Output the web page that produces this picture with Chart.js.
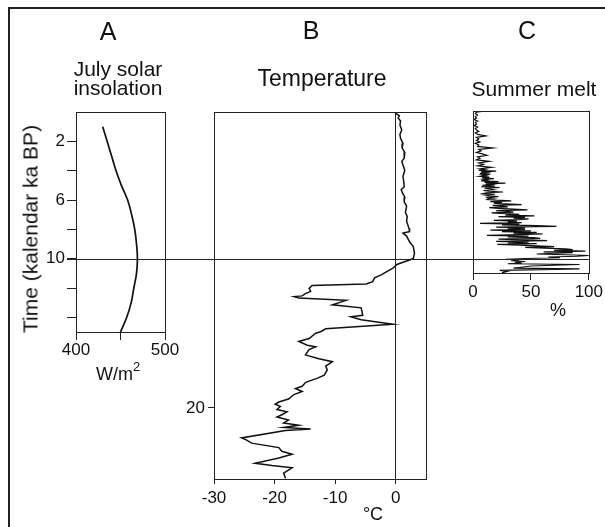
<!DOCTYPE html>
<html>
<head>
<meta charset="utf-8">
<script src="https://cdn.jsdelivr.net/npm/chart.js@4.4.1/dist/chart.umd.min.js"></script>
<style>
  html, body { margin: 0; padding: 0; background: #fff; }
  #wrap { position: relative; width: 605px; height: 527px; overflow: hidden;
          font-family: "Liberation Sans", Arial, sans-serif; color: #111; }
  #frame { position: absolute; left: 8px; top: 7px; width: 640px; height: 560px;
           border-top: 2px solid #222; border-left: 2px solid #222; }
  canvas { position: absolute; left: 0; top: 0; }
  .t { position: absolute; transform: translate(-50%, -50%); white-space: nowrap; line-height: 1; }
</style>
</head>
<body>
<div id="wrap">
  <div id="frame"></div>
  <canvas id="cA" width="605" height="527"></canvas>
  <canvas id="cC" width="605" height="527"></canvas>
  <canvas id="cB" width="605" height="527"></canvas>

  <div class="t" style="left:108px;top:31px;font-size:25px">A</div>
  <div class="t" style="left:311px;top:30px;font-size:25px">B</div>
  <div class="t" style="left:527px;top:30px;font-size:25px">C</div>
  <div class="t" style="left:118px;top:68px;font-size:21px">July solar</div>
  <div class="t" style="left:118px;top:87px;font-size:21px">insolation</div>
  <div class="t" style="left:322px;top:78px;font-size:23px">Temperature</div>
  <div class="t" style="left:534px;top:88px;font-size:21px">Summer melt</div>
  <div class="t" style="left:30px;top:229px;font-size:21px;transform:translate(-50%,-50%) rotate(-90deg)">Time (kalendar ka BP)</div>
  <div class="t" style="left:118px;top:371px;font-size:18px">W/m<sup style="font-size:13px;vertical-align:9px">2</sup></div>
  <div class="t" style="left:373px;top:514px;font-size:18px">°C</div>
  <div class="t" style="left:558px;top:310px;font-size:18px">%</div>
</div>

<script>
// A: July solar insolation (W/m2) vs age (ka BP)
var insolAge = [1, 2, 3, 4, 5, 6, 7, 8, 9, 10, 11, 12, 13, 14, 15];
var insolWm2 = [430, 435, 440, 445, 451, 458, 462.5, 466, 468, 469, 468, 465, 462, 457, 450];
var insolXTicks = [400, 450, 500];
var insolXLabels = [400, 500];
var insolYTicks = [2, 4, 6, 8, 10, 12, 14];
var insolYLabels = [2, 6, 10];

// B: temperature (deg C) vs age (ka BP)
var tempAge = [0.13, 0.3, 0.45, 0.6, 0.8, 1.07, 1.4, 1.7, 1.96, 2.3, 2.6, 2.9, 3.3, 3.5, 3.75, 4.1, 4.5,
  4.8, 5.2, 5.4, 5.6, 5.9, 6.2, 6.5, 6.9, 7.2, 7.5, 8.0, 8.2, 8.3, 8.5,
  8.9, 9.2, 9.65, 10.0, 10.1, 10.25, 10.4, 10.65, 10.9, 11.1, 11.3, 11.55, 11.7, 11.8, 12.0, 12.2, 12.35,
  12.5, 12.55, 12.65, 12.8, 13.1, 13.3, 13.8, 13.9, 14.1, 14.4, 14.7, 14.9, 15.0, 15.35, 15.55, 15.8, 15.9,
  16.1, 16.45, 16.7, 16.9, 17.2, 17.45, 17.8, 18.0, 18.2, 18.3, 18.55, 18.7, 18.9, 19.1, 19.4, 19.6, 19.75, 19.9,
  20.1, 20.25, 20.45, 20.6, 20.8, 21.0, 21.15, 21.3, 21.4, 21.5, 22.0, 22.15, 22.35, 22.65, 22.9, 23.1,
  23.35, 23.7, 23.85, 24.0, 24.35, 24.7];
var tempC = [0.2, 0, 0.6, 0.4, 0.8, 0.7, 1.0, 0.7, 0.8, 1.2, 1.05, 1.5, 1.4, 1.0, 1.2, 1.5, 1.2,
  1.3, 1.4, 0.9, 1.1, 1.5, 1.4, 1.8, 1.6, 1.9, 1.8, 2.2, 2.3, 1.2, 1.8,
  2.3, 2.9, 3.1, 2.9, 2.3, 1.2, 0.2, -0.45, -1.55, -2.4, -3.5, -3.8, -4.9, -13.8, -14.3, -14.05, -14.9,
  -15.45, -16.8, -16, -8.2, -10.45, -5.7, -5.45, -7.4, -5.7, -0.45, -11.55, -12.4, -13.2, -14.3, -16, -14.6, -13.2,
  -14.3, -14.9, -12.7, -10.45, -11.55, -11.3, -11.8, -12.9, -14.3, -14.9, -15.45, -16.55, -15.45, -16.8, -17.7, -19.3, -19.9, -19.05,
  -19.6, -17.95, -18.8, -19.6, -17.7, -18.5, -16, -18.5, -14.05, -18.2, -25.45, -24.6, -23.8, -19.3, -18.8, -17.1,
  -19.3, -23.2, -20.45, -17.1, -18.5, -18.2];
var tempXTicks = [-30, -20, -10, 0];
var tempYTicks = [20];

// C: summer melt (%) vs age (ka BP)
var meltAge = [
  0.1, 0.2, 0.3, 0.4, 0.5, 0.6, 0.7, 0.8, 0.9, 1.0,
  1.1, 1.2, 1.3, 1.4, 1.5, 1.6, 1.7, 1.8, 1.9, 2.0,
  2.1, 2.2, 2.3, 2.4, 2.5, 2.6, 2.7, 2.8, 2.9, 3.0,
  3.1, 3.2, 3.3, 3.4, 3.5, 3.6, 3.7, 3.8, 3.9, 4.0,
  4.05, 4.1, 4.15, 4.2, 4.25, 4.3, 4.35, 4.4, 4.45, 4.5,
  4.55, 4.6, 4.65, 4.7, 4.75, 4.8, 4.85, 4.9, 4.95, 5.0,
  5.05, 5.1, 5.15, 5.2, 5.25, 5.3, 5.35, 5.4, 5.45, 5.5,
  5.55, 5.6, 5.65, 5.7, 5.75, 5.8, 5.85, 5.9, 5.95, 6.0,
  6.05, 6.1, 6.15, 6.2, 6.25, 6.3, 6.35, 6.4, 6.45, 6.5,
  6.55, 6.6, 6.65, 6.7, 6.75, 6.8, 6.85, 6.9, 6.95, 7.0,
  7.05, 7.1, 7.15, 7.2, 7.25, 7.3, 7.35, 7.4, 7.45, 7.5,
  7.55, 7.6, 7.65, 7.7, 7.75, 7.8, 7.85, 7.9, 7.95, 8.0,
  8.05, 8.1, 8.15, 8.2, 8.25, 8.3, 8.35, 8.4, 8.45, 8.5,
  8.55, 8.6, 8.65, 8.7, 8.75, 8.8, 8.85, 8.9, 8.95, 9.0,
  9.05, 9.1, 9.15, 9.2, 9.25, 9.3, 9.35, 9.4, 9.45, 9.5,
  9.55, 9.6, 9.65, 9.7, 9.75, 9.8, 9.85, 9.9, 9.95, 10.0,
  10.05, 10.1, 10.15, 10.2, 10.25, 10.3, 10.35, 10.4, 10.45, 10.5,
  10.55, 10.6, 10.65, 10.7, 10.75, 10.8, 10.85, 10.9, 10.95];
var meltPct = [
  12, 3, 2, 4, 2, 3, 1, 4, 2, 3,
  1, 4, 2, 3, 5, 2, 4, 11, 3, 5,
  3, 6, 2, 5, 4, 17, 5, 7, 3, 8,
  12, 4, 6, 3, 14, 5, 9, 4, 16, 6,
  10, 5, 20, 7, 12, 6, 15, 8, 11, 6,
  14, 8, 18, 9, 12, 7, 22, 10, 28, 11,
  16, 8, 19, 7, 23, 10, 15, 18, 9, 14,
  26, 12, 9, 19, 10, 14, 22, 11, 18, 13,
  12, 20, 33, 15, 25, 18, 28, 42, 17, 24,
  30, 14, 22, 35, 47, 20, 30, 35, 16, 28,
  40, 28, 53, 22, 45, 35, 48, 40, 18, 38,
  30, 42, 6, 40, 25, 55, 72, 20, 45, 30,
  45, 15, 50, 25, 55, 35, 60, 40, 12, 48,
  30, 52, 58, 22, 45, 64, 20, 48, 30, 55,
  21, 40, 55, 70, 45, 62, 80, 86, 70, 97,
  61, 86, 70, 55, 80, 100, 90, 65, 75, 45,
  28, 40, 33, 45, 36, 42, 30, 92, 70, 50,
  45, 40, 35, 92, 60, 23, 30, 28, 25];
var meltXTicks = [0, 50, 100];

var refAge = 10; // horizontal marker across all panels

Chart.defaults.font.family = '"Liberation Sans", Arial, sans-serif';
Chart.defaults.font.size = 17;
Chart.defaults.color = '#111';

function pairs(xs, ys) {
  return ys.map(function(t, i) { return { x: xs[i], y: t }; });
}
function setTicks(list) {
  return function(scale) { scale.ticks = list.map(function(v) { return { value: v }; }); };
}
function fixSize(size) {
  return function(scale) {
    if (scale.isHorizontal()) scale.height = size; else scale.width = size;
  };
}

// full box round each plot area
var boxPlugin = {
  id: 'box',
  afterDraw: function(chart) {
    var a = chart.chartArea, c = chart.ctx;
    c.save();
    c.strokeStyle = '#222';
    c.lineWidth = 1;
    c.strokeRect(Math.round(a.left) + 0.5, Math.round(a.top) + 0.5,
      Math.round(a.right - a.left), Math.round(a.bottom - a.top));
    c.restore();
  }
};

function baseOptions(pad) {
  return {
    responsive: false,
    animation: false,
    events: [],
    layout: { padding: pad },
    plugins: { legend: { display: false }, tooltip: { enabled: false } }
  };
}

// ---- Panel A ----
var optA = baseOptions({ left: 0, top: 112, right: 605 - 165, bottom: 527 - 332 - 40 });
optA.scales = {
  x: {
    min: 400, max: 500,
    afterBuildTicks: setTicks(insolXTicks),
    afterFit: fixSize(40),
    border: { display: false },
    grid: { drawOnChartArea: false, tickLength: 8, tickColor: '#222' },
    ticks: { padding: 0, maxRotation: 0, callback: function(v) { return insolXLabels.indexOf(v) >= 0 ? String(v) : ''; } }
  },
  y: {
    reverse: true, min: 0, max: 15,
    afterBuildTicks: setTicks(insolYTicks),
    afterFit: fixSize(76),
    border: { display: false },
    grid: { drawOnChartArea: false, tickLength: 9, tickColor: '#222' },
    ticks: { padding: 2, callback: function(v) { return insolYLabels.indexOf(v) >= 0 ? String(v) : ''; } }
  }
};
var chartA = new Chart(document.getElementById('cA'), {
  type: 'scatter',
  data: { datasets: [{
    data: pairs(insolWm2, insolAge),
    showLine: true, borderColor: '#111', borderWidth: 1.7, pointRadius: 0, tension: 0.4
  }] },
  options: optA,
  plugins: [boxPlugin]
});

// ---- Panel C ----
var optC = baseOptions({ left: 473, top: 111, right: 605 - 593, bottom: 527 - 273 - 40 });
optC.scales = {
  x: {
    min: 0, max: 100,
    afterBuildTicks: setTicks(meltXTicks),
    afterFit: fixSize(40),
    border: { display: false },
    grid: { drawOnChartArea: false, tickLength: 7, tickColor: '#222' },
    ticks: { padding: 2, maxRotation: 0 }
  },
  y: { display: false, reverse: true, min: 0.13, max: 10.97 }
};
var chartC = new Chart(document.getElementById('cC'), {
  type: 'scatter',
  data: { datasets: [{
    data: pairs(meltPct, meltAge),
    showLine: true, borderColor: '#111', borderWidth: 1.2, pointRadius: 0, tension: 0
  }] },
  options: optC,
  plugins: [boxPlugin]
});

// ---- Panel B ----
var refLine = {
  id: 'refLine',
  afterDraw: function(chart) {
    var c = chart.ctx;
    var y = Math.round(chart.scales.y.getPixelForValue(refAge)) + 0.5;
    var x0 = chartA.chartArea.left - 9;
    var x1 = chartC.chartArea.right;
    c.save();
    c.strokeStyle = '#222';
    c.lineWidth = 1;
    c.beginPath();
    c.moveTo(x0, y);
    c.lineTo(x1, y);
    c.stroke();
    c.restore();
  }
};
var optB = baseOptions({ left: 214 - 40, top: 112, right: 605 - 426, bottom: 527 - 479 - 40 });
optB.scales = {
  x: {
    min: -30, max: 5,
    afterBuildTicks: setTicks(tempXTicks),
    afterFit: fixSize(40),
    border: { display: false },
    grid: {
      drawOnChartArea: true, tickLength: 5, tickColor: '#222',
      color: function(ctx) { return ctx.tick && ctx.tick.value === 0 ? '#222' : 'rgba(0,0,0,0)'; }
    },
    ticks: { padding: 4, maxRotation: 0 }
  },
  y: {
    reverse: true, min: 0.2, max: 24.75,
    afterBuildTicks: setTicks(tempYTicks),
    afterFit: fixSize(40),
    border: { display: false },
    grid: { drawOnChartArea: false, tickLength: 6, tickColor: '#222' },
    ticks: { padding: 3 }
  }
};
var chartB = new Chart(document.getElementById('cB'), {
  type: 'scatter',
  data: { datasets: [{
    data: pairs(tempC, tempAge),
    showLine: true, borderColor: '#111', borderWidth: 1.5, pointRadius: 0, tension: 0
  }] },
  options: optB,
  plugins: [boxPlugin, refLine]
});
</script>
</body>
</html>
